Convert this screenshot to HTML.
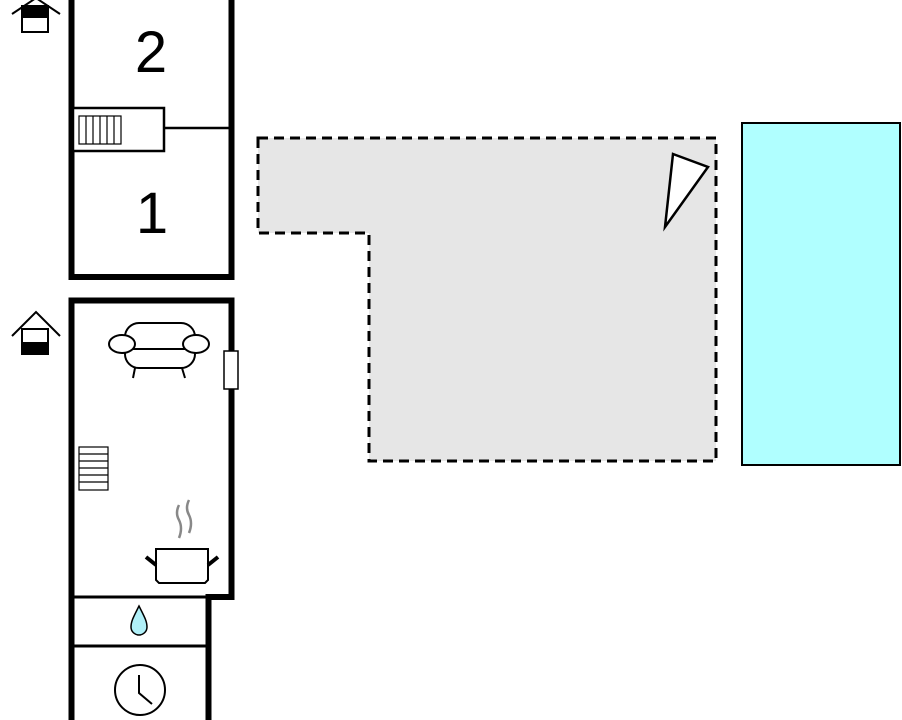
<!DOCTYPE html>
<html><head><style>body{margin:0;background:#fff}</style></head><body>
<svg width="902" height="720" xmlns="http://www.w3.org/2000/svg" style="display:block">
<rect width="902" height="720" fill="#fff"/>
<!-- terrace -->
<polygon points="258,138 716,138 716,461 369,461 369,233 258,233" fill="#e6e6e6" stroke="#000" stroke-width="3" stroke-dasharray="10,6"/>
<polygon points="673,154 708,167 665,227" fill="#fff" stroke="#000" stroke-width="2.5"/>
<!-- pool -->
<rect x="742" y="123" width="158" height="342" fill="#b0ffff" stroke="#000" stroke-width="2"/>
<!-- top building -->
<polyline points="71.5,0 71.5,277 231.5,277 231.5,0" fill="none" stroke="#000" stroke-width="6"/>
<rect x="73" y="108" width="91" height="43" fill="#fff" stroke="#000" stroke-width="2.5"/>
<line x1="164" y1="128" x2="229" y2="128" stroke="#000" stroke-width="2.5"/>
<g fill="none" stroke="#000" stroke-width="1.2">
<rect x="79" y="116" width="42" height="28"/>
<line x1="86" y1="116" x2="86" y2="144"/><line x1="93" y1="116" x2="93" y2="144"/><line x1="100" y1="116" x2="100" y2="144"/><line x1="107" y1="116" x2="107" y2="144"/><line x1="114" y1="116" x2="114" y2="144"/>
</g>
<text x="151" y="72" font-family="Liberation Sans, sans-serif" font-size="58" text-anchor="middle">2</text>
<text x="152" y="233" font-family="Liberation Sans, sans-serif" font-size="58" text-anchor="middle">1</text>
<!-- house icon top -->
<polyline points="12,14 36,-2 60,14" fill="none" stroke="#000" stroke-width="2"/>
<rect x="22" y="6" width="26" height="26" fill="#fff" stroke="#000" stroke-width="2"/>
<rect x="22" y="6" width="26" height="12" fill="#000"/>
<!-- house icon lower -->
<polyline points="12,336 36,312 60,336" fill="none" stroke="#000" stroke-width="2"/>
<rect x="22" y="329" width="26" height="25" fill="#fff" stroke="#000" stroke-width="2"/>
<rect x="22" y="342" width="26" height="12" fill="#000"/>
<!-- lower building -->
<polyline points="71.5,720 71.5,300.5 231.5,300.5 231.5,597 208.5,597 208.5,720" fill="none" stroke="#000" stroke-width="6"/>
<line x1="74" y1="597" x2="208" y2="597" stroke="#000" stroke-width="3"/>
<line x1="74" y1="646" x2="206" y2="646" stroke="#000" stroke-width="3"/>
<rect x="224" y="351" width="14" height="38" fill="#fff" stroke="#000" stroke-width="1.5"/>
<!-- sofa -->
<g fill="#fff" stroke="#000" stroke-width="2">
<line x1="135" y1="368" x2="133" y2="378"/><line x1="182" y1="368" x2="185" y2="378"/>
<rect x="125" y="323" width="70" height="45" rx="14"/>
<line x1="132" y1="349" x2="186" y2="349"/>
<ellipse cx="122" cy="344" rx="13" ry="9"/>
<ellipse cx="196" cy="344" rx="13" ry="9"/>
</g>
<!-- stairs lower -->
<g fill="none" stroke="#000" stroke-width="1.2">
<rect x="79" y="447" width="29" height="43"/>
<line x1="79" y1="454" x2="108" y2="454"/><line x1="79" y1="461" x2="108" y2="461"/><line x1="79" y1="468" x2="108" y2="468"/><line x1="79" y1="475" x2="108" y2="475"/><line x1="79" y1="482" x2="108" y2="482"/>
</g>
<!-- pot -->
<path d="M179,505 q-4,8 0,15 q4,8 0,18 M189,500 q-4,8 0,15 q4,8 0,18" fill="none" stroke="#888" stroke-width="2.5"/>
<path d="M156,549 L208,549 L208,580 L205,583 L159,583 L156,580 Z" fill="#fff" stroke="#000" stroke-width="2"/>
<line x1="146" y1="557" x2="156" y2="565" stroke="#000" stroke-width="4"/>
<line x1="218" y1="557" x2="208" y2="565" stroke="#000" stroke-width="4"/>
<!-- drop -->
<path d="M139,606 C134,616 131,621 131,627 A8,8 0 0 0 147,627 C147,621 144,616 139,606 Z" fill="#b0f0f8" stroke="#000" stroke-width="1.5"/>
<!-- clock -->
<circle cx="140" cy="690" r="25" fill="#fff" stroke="#000" stroke-width="2"/>
<polyline points="139,675 139,693 152,704" fill="none" stroke="#000" stroke-width="2"/>
</svg>
</body></html>
